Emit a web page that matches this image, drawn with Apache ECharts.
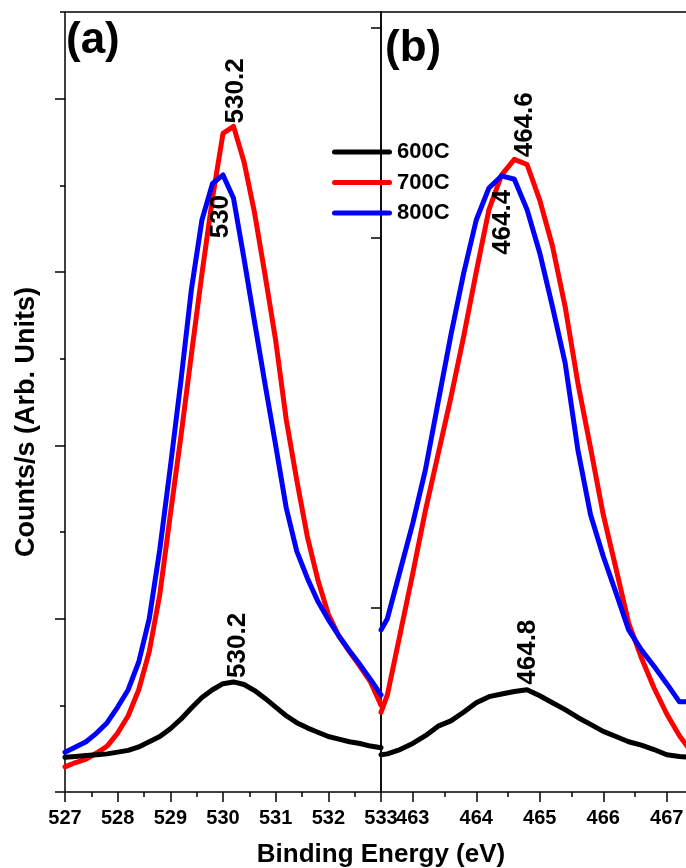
<!DOCTYPE html>
<html>
<head>
<meta charset="utf-8">
<script src="https://cdn.jsdelivr.net/npm/echarts@6/dist/echarts.min.js"></script>
<style>
  html, body { margin: 0; padding: 0; background: #ffffff; }
  #chart { width: 686px; height: 868px; }
</style>
</head>
<body>
<div id="chart"></div>
<script>
// ---------- data: panel (a), O 1s region ----------
const energyA = [527.0, 527.2, 527.4, 527.6, 527.8, 528.0, 528.2, 528.4, 528.6, 528.8,
                 529.0, 529.2, 529.4, 529.6, 529.8, 530.0, 530.2, 530.4, 530.6, 530.8,
                 531.0, 531.2, 531.4, 531.6, 531.8, 532.0, 532.2, 532.4, 532.6, 532.8, 533.0];
const a600 = [0.40, 0.41, 0.42, 0.43, 0.44, 0.46, 0.48, 0.52, 0.58, 0.64,
              0.73, 0.84, 0.97, 1.09, 1.18, 1.25, 1.27, 1.24, 1.17, 1.08,
              0.98, 0.88, 0.80, 0.74, 0.69, 0.64, 0.61, 0.58, 0.56, 0.53, 0.51];
const a700 = [0.29, 0.34, 0.38, 0.45, 0.53, 0.68, 0.88, 1.18, 1.62, 2.28,
              3.20, 4.10, 5.05, 5.98, 6.85, 7.60, 7.68, 7.27, 6.68, 5.96,
              5.21, 4.30, 3.60, 2.95, 2.45, 2.05, 1.80, 1.62, 1.45, 1.27, 1.00];
const a800 = [0.46, 0.52, 0.58, 0.68, 0.80, 0.98, 1.18, 1.50, 2.00, 2.80,
              3.75, 4.74, 5.80, 6.60, 7.02, 7.12, 6.85, 6.15, 5.42, 4.70,
              4.00, 3.28, 2.78, 2.47, 2.20, 1.99, 1.80, 1.63, 1.47, 1.30, 1.12];

// ---------- data: panel (b), Ti 2p region ----------
const energyB = [462.5, 462.6, 462.8, 463.0, 463.2, 463.4, 463.6, 463.8, 464.0, 464.2,
                 464.4, 464.6, 464.8, 465.0, 465.2, 465.4, 465.6, 465.8, 466.0, 466.2,
                 466.4, 466.6, 466.8, 467.0, 467.2, 467.4];
const b600 = [0.43, 0.44, 0.49, 0.56, 0.65, 0.76, 0.82, 0.92, 1.03, 1.10,
              1.13, 1.16, 1.18, 1.11, 1.03, 0.95, 0.86, 0.78, 0.70, 0.64,
              0.58, 0.54, 0.49, 0.43, 0.41, 0.40];
const b700 = [0.92, 1.12, 1.82, 2.52, 3.25, 3.90, 4.55, 5.25, 6.00, 6.72,
              7.12, 7.30, 7.24, 6.83, 6.30, 5.60, 4.72, 3.97, 3.20, 2.58,
              1.95, 1.55, 1.20, 0.90, 0.65, 0.45];
const b800 = [1.87, 2.00, 2.55, 3.10, 3.72, 4.50, 5.27, 5.98, 6.60, 6.97,
              7.11, 7.07, 6.72, 6.22, 5.60, 4.95, 3.95, 3.20, 2.72, 2.30,
              1.87, 1.64, 1.45, 1.25, 1.04, 1.04];

// ---------- names, ticks, peak positions ----------
const seriesNames = ['600C', '700C', '800C'];
const ticksA = [527, 528, 529, 530, 531, 532, 533];
const minorTicksA = [527.5, 528.5, 529.5, 530.5, 531.5, 532.5];
const ticksB = [463, 464, 465, 466, 467];
const minorTicksB = [462.5, 463.5, 464.5, 465.5, 466.5, 467.5];
const yMajorA = [0, 2, 4, 6, 8];
const yMinorA = [1, 3, 5, 7, 9];
const yTicksB = [2.13, 6.4, 8.82];
const peaksA = [530.2, 530.2, 530.0];   // 600C, 700C, 800C
const peaksB = [464.8, 464.6, 464.4];   // 600C, 700C, 800C

// ---------- styling ----------
const FONT = '"Liberation Sans", Arial, Helvetica, sans-serif';
const COLORS = ['#000000', '#ff0000', '#0000ff'];
const AXIS_W = 1.5;
// label anchor offsets (px) from each peak point
const placeA = [{ align: 'left', dx: 4.5, dy: -4 }, { align: 'left', dx: 2, dy: -3 }, { align: 'right', dx: -2, dy: 20 }];
const placeB = [{ align: 'left', dx: 1, dy: -5 }, { align: 'left', dx: 10.5, dy: -2 }, { align: 'right', dx: 1.5, dy: 14 }];

const tickLabel = { fontFamily: FONT, fontWeight: 'bold', fontSize: 20, color: '#000', margin: 16 };
const peakText = {
  show: true, rotate: 90, verticalAlign: 'middle',
  fontFamily: FONT, fontWeight: 'bold', fontSize: 26, color: '#000000',
  opacity: 1, textBorderWidth: 0, textShadowBlur: 0
};

function xAxisMain(grid, min, max, ticks) {
  return {
    type: 'value', gridIndex: grid, min: min, max: max, position: 'bottom',
    axisLine: { show: false },
    splitLine: { show: false },
    axisTick: { show: true, length: 10, customValues: ticks, lineStyle: { color: '#000', width: AXIS_W } },
    axisLabel: Object.assign({ show: true, customValues: ticks }, tickLabel)
  };
}
function xAxisMinor(grid, min, max, ticks) {
  return {
    type: 'value', gridIndex: grid, min: min, max: max, position: 'bottom', offset: 0,
    axisLine: { show: false },
    splitLine: { show: false },
    axisTick: { show: true, length: 5, customValues: ticks, lineStyle: { color: '#000', width: AXIS_W } },
    axisLabel: { show: false }
  };
}
function yAxisTicks(grid, ticks, len) {
  return {
    type: 'value', gridIndex: grid, min: 0, max: 9, position: 'left',
    axisLine: { show: false },
    splitLine: { show: false },
    axisTick: { show: true, length: len, customValues: ticks, lineStyle: { color: '#000', width: AXIS_W } },
    axisLabel: { show: false }
  };
}

function curve(k, xs, ys, xi, yi) {
  return {
    type: 'line', name: seriesNames[k], xAxisIndex: xi, yAxisIndex: yi,
    data: xs.map((x, i) => [x, ys[i]]),
    showSymbol: false, symbol: 'none', clip: true, silent: true,
    lineStyle: { color: COLORS[k], width: 5, join: 'round', cap: 'round' },
    itemStyle: { color: COLORS[k], borderWidth: 0 },
    emphasis: { disabled: true },
    z: 3
  };
}

function peakLabels(xs, curves, peaks, place, xi, yi) {
  return {
    type: 'scatter', xAxisIndex: xi, yAxisIndex: yi, symbolSize: 4, silent: true, z: 6,
    itemStyle: { color: '#000000', opacity: 0 },
    emphasis: { disabled: true },
    label: Object.assign({ formatter: (p) => String(p.value[0]) }, peakText),
    data: peaks.map((e, k) => {
      const i = xs.indexOf(e);
      const p = place[k];
      return {
        value: [e, curves[k][i]],
        itemStyle: { opacity: 0 },
        label: Object.assign({ align: p.align, position: [2 + p.dx, 2 + p.dy], formatter: String(e) }, peakText)
      };
    })
  };
}

const curvesA = [a600, a700, a800];
const curvesB = [b600, b700, b800];
const drawOrder = [1, 2, 0];

const series = [];
drawOrder.forEach(k => series.push(curve(k, energyA, curvesA[k], 0, 0)));
drawOrder.forEach(k => series.push(curve(k, energyB, curvesB[k], 2, 2)));
series.push(peakLabels(energyA, curvesA, peaksA, placeA, 0, 0));
series.push(peakLabels(energyB, curvesB, peaksB, placeB, 2, 2));

const gridBase = { show: true, borderColor: '#000', borderWidth: AXIS_W, backgroundColor: 'transparent', containLabel: false, outerBoundsMode: 'none' };

const option = {
  animation: false,
  backgroundColor: '#ffffff',
  grid: [
    Object.assign({ left: 65, top: 12, width: 316, height: 780 }, gridBase),
    Object.assign({ left: 381, top: 12, width: 317.5, height: 780 }, gridBase)
  ],
  xAxis: [
    xAxisMain(0, 527, 533, ticksA),
    xAxisMinor(0, 527, 533, minorTicksA),
    xAxisMain(1, 462.5, 467.5, ticksB),
    xAxisMinor(1, 462.5, 467.5, minorTicksB)
  ],
  yAxis: [
    yAxisTicks(0, yMajorA, 10),
    yAxisTicks(0, yMinorA, 5),
    yAxisTicks(1, yTicksB, 10)
  ],
  legend: {
    data: seriesNames,
    orient: 'vertical', left: 332, top: 141,
    itemWidth: 60, itemHeight: 5, itemGap: 8.5,
    icon: 'path://M2.5,0H57.5A2.5,2.5,0,0,1,57.5,5H2.5A2.5,2.5,0,0,1,2.5,0Z',
    symbolKeepAspect: false,
    itemStyle: { borderWidth: 0 },
    selectedMode: false,
    padding: 0,
    textStyle: { fontFamily: FONT, fontWeight: 'bold', fontSize: 22, lineHeight: 22, color: '#000', padding: 0 }
  },
  graphic: [
    { type: 'text', x: 66, y: 41, silent: true,
      style: { text: '(a)', font: 'bold 44px ' + FONT, fill: '#000', align: 'left', verticalAlign: 'middle', textAlign: 'left', textVerticalAlign: 'middle' } },
    { type: 'text', x: 385, y: 49, silent: true,
      style: { text: '(b)', font: 'bold 44px ' + FONT, fill: '#000', align: 'left', verticalAlign: 'middle', textAlign: 'left', textVerticalAlign: 'middle' } },
    { type: 'text', x: 381, y: 855, silent: true,
      style: { text: 'Binding Energy (eV)', font: 'bold 26px ' + FONT, fill: '#000', align: 'center', verticalAlign: 'middle', textAlign: 'center', textVerticalAlign: 'middle' } },
    { type: 'text', x: 27, y: 422, rotation: Math.PI / 2, silent: true,
      style: { text: 'Counts/s (Arb. Units)', font: 'bold 27px ' + FONT, fill: '#000', align: 'center', verticalAlign: 'middle', textAlign: 'center', textVerticalAlign: 'middle' } }
  ],
  series: series
};

const chart = echarts.init(document.getElementById('chart'), null, { renderer: 'canvas' });
chart.setOption(option);
</script>
</body>
</html>
